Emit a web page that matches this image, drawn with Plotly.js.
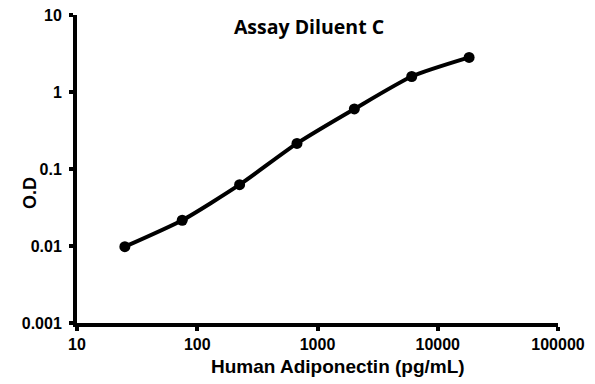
<!DOCTYPE html>
<html>
<head>
<meta charset="utf-8">
<script src="https://cdn.plot.ly/plotly-3.0.1.min.js"></script>
<style>html,body{margin:0;padding:0;background:#fff;}#chart{width:595px;height:384px;}</style>
</head>
<body>
<div id="chart"></div>
<script>
const concentration = [25, 75, 225, 675, 2025, 6075, 18225];
const opticalDensity = [0.0098, 0.0216, 0.0626, 0.215, 0.602, 1.59, 2.81];
const xTickValues = [10, 100, 1000, 10000, 100000];
const xTickLabels = ["10", "100", "1000", "10000", "100000"];
const yTickValues = [0.001, 0.01, 0.1, 1, 10];
const yTickLabels = ["0.001", "0.01", "0.1", "1", "10"];
const chartTitle = "Assay Diluent C";
const xTitle = "Human Adiponectin (pg/mL)";
const yTitle = "O.D";

const W = 595, H = 384;
const L = 77, R = 37, T = 15, B = 61;
const pw = W - L - R, ph = H - T - B;

const trace = {
  x: concentration,
  y: opticalDensity,
  type: "scatter",
  mode: "lines+markers",
  line: {color: "#000", width: 4, shape: "spline", smoothing: 0.6},
  marker: {color: "#000", size: 11},
  hoverinfo: "x+y"
};

const tickFont = {family: "Liberation Sans, Arial, sans-serif", size: 16, color: "#000", weight: "bold"};

const layout = {
  width: W, height: H,
  margin: {l: L, r: R, t: T, b: B, pad: 0},
  paper_bgcolor: "#fff",
  plot_bgcolor: "#fff",
  showlegend: false,
  title: {
    text: "<b>" + chartTitle + "</b>",
    font: {family: "Open Sans, sans-serif", size: 19.5, color: "#000"},
    xref: "paper", x: (309 - L) / pw, xanchor: "center",
    yref: "container", y: 1 - 27 / H, yanchor: "middle"
  },
  xaxis: {
    type: "log",
    range: [1, 5],
    tickmode: "array",
    tickvals: xTickValues,
    ticktext: xTickLabels,
    showgrid: false,
    zeroline: false,
    showline: true,
    linecolor: "#000",
    linewidth: 4,
    ticks: "outside",
    ticklen: 4,
    tickwidth: 4,
    tickcolor: "#000",
    tickfont: tickFont,
    title: {text: ""}
  },
  yaxis: {
    type: "log",
    range: [-3, 1],
    tickmode: "array",
    tickvals: yTickValues,
    ticktext: yTickLabels,
    showgrid: false,
    zeroline: false,
    showline: true,
    linecolor: "#000",
    linewidth: 4,
    ticks: "outside",
    ticklen: 4,
    tickwidth: 4,
    tickcolor: "#000",
    tickfont: tickFont,
    ticklabelstandoff: 4,
    title: {text: ""}
  },
  annotations: [
    {
      text: "<b>" + xTitle + "</b>",
      xref: "paper", yref: "paper",
      x: (338 - L) / pw, y: -(366 - (T + ph)) / ph,
      xanchor: "center", yanchor: "middle",
      showarrow: false,
      font: {family: "Liberation Sans, Arial, sans-serif", size: 19, color: "#000"}
    },
    {
      text: "<b>" + yTitle + "</b>",
      xref: "paper", yref: "paper",
      x: -(L - 30) / pw, y: 1 - (193 - T) / ph,
      xanchor: "center", yanchor: "middle",
      textangle: -90,
      showarrow: false,
      font: {family: "Liberation Sans, Arial, sans-serif", size: 18, color: "#000"}
    }
  ]
};

Plotly.newPlot("chart", [trace], layout, {displayModeBar: false, staticPlot: true});
</script>
</body>
</html>
